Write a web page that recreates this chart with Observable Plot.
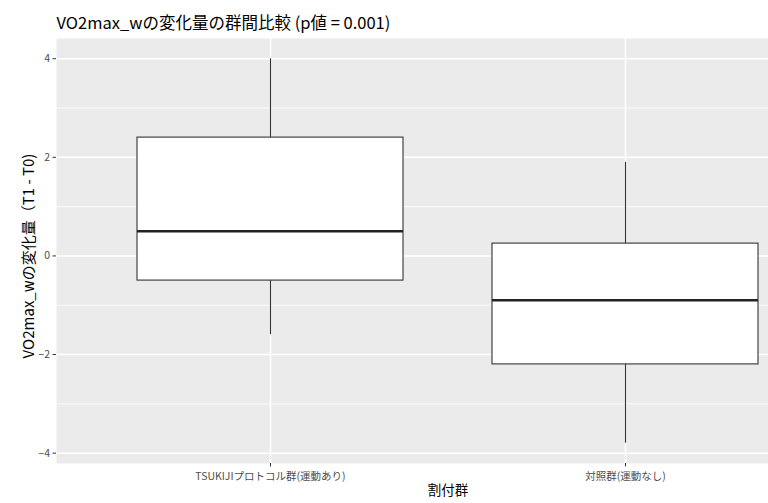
<!DOCTYPE html>
<html>
<head>
<meta charset="utf-8">
<script src="https://cdn.jsdelivr.net/npm/d3@7"></script>
<script src="https://cdn.jsdelivr.net/npm/@observablehq/plot@0.6"></script>
<style>
  html, body { margin: 0; padding: 0; background: #fff; }
  #chart svg { display: block; }
</style>
</head>
<body>
<div id="chart"></div>
<script>
// Box summaries of the VO2max_w change (T1 - T0) per allocation group
const groups = ["TSUKIJIプロトコル群(運動あり)", "対照群(運動なし)"];
const whiskerLow = [-1.6, -3.8];
const q1 = [-0.5, -2.2];
const median = [0.5, -0.9];
const q3 = [2.4, 0.25];
const whiskerHigh = [4.0, 1.9];

const majorTicks = [-4, -2, 0, 2, 4];
const minorTicks = [-3, -1, 1, 3];

const titleText = "VO2max_wの変化量の群間比較 (p値 = 0.001)";
const yTitle = "VO2max_wの変化量（T1 - T0)";
const xTitle = "割付群";

const boxes = groups.map((g, i) => ({
  group: g, lo: whiskerLow[i], q1: q1[i], med: median[i], q3: q3[i], hi: whiskerHigh[i]
}));

const W = 768, H = 503;
const mLeft = 56, mTop = 38, mBottom = 40;
const font = "'Noto Sans CJK JP', 'Noto Sans', sans-serif";

const chart = Plot.plot({
  width: W,
  height: H,
  marginLeft: mLeft,
  marginRight: 0,
  marginTop: mTop,
  marginBottom: mBottom,
  style: { fontFamily: font, background: "#fff", overflow: "visible" },
  x: {
    type: "band",
    domain: groups,
    // discrete axis with 0.6 expansion on both sides: the panel runs past the right edge
    range: [mLeft, 839],
    paddingInner: 0.25,
    paddingOuter: 0.225
  },
  y: { domain: [-4.21, 4.41] },
  marks: [
    Plot.frame({ fill: "#EBEBEB", stroke: null }),
    Plot.gridY(minorTicks, { stroke: "#fff", strokeOpacity: 1, strokeWidth: 0.8 }),
    Plot.gridY(majorTicks, { stroke: "#fff", strokeOpacity: 1, strokeWidth: 1.5 }),
    Plot.gridX(groups, { stroke: "#fff", strokeOpacity: 1, strokeWidth: 1.5 }),
    // whiskers
    Plot.ruleX(boxes, { x: "group", y1: "lo", y2: "hi", stroke: "#333", strokeWidth: 1.1 }),
    // boxes
    Plot.barY(boxes, { x: "group", y1: "q1", y2: "q3", fill: "#fff", stroke: "#333", strokeWidth: 1.1 }),
    // medians
    Plot.tickY(boxes, { x: "group", y: "med", stroke: "#222", strokeWidth: 2.6 }),
    // axes
    Plot.axisY(majorTicks, { tickSize: 3.5, tickPadding: 3, stroke: "#333", strokeOpacity: 1,
      fill: "#4D4D4D", fontSize: 10.5, label: null }),
    Plot.axisX(groups, { tickSize: 3.5, tickPadding: 6, stroke: "#333", strokeOpacity: 1,
      fill: "#4D4D4D", fontSize: 10.5, label: null }),
    // axis titles
    Plot.text([xTitle], { frameAnchor: "bottom", dx: 35.5, dy: 31, text: d => d,
      fill: "#000", fontSize: 13.5 }),
    Plot.text([yTitle], { frameAnchor: "left", textAnchor: "middle", dx: -27, dy: 5, rotate: -90,
      text: d => d, fill: "#000", fontSize: 15 }),
    Plot.text([titleText], { frameAnchor: "top-left", dy: -21, text: d => d,
      textAnchor: "start", fill: "#000", fontSize: 16.5 })
  ]
});

document.getElementById("chart").appendChild(chart);
</script>
</body>
</html>
